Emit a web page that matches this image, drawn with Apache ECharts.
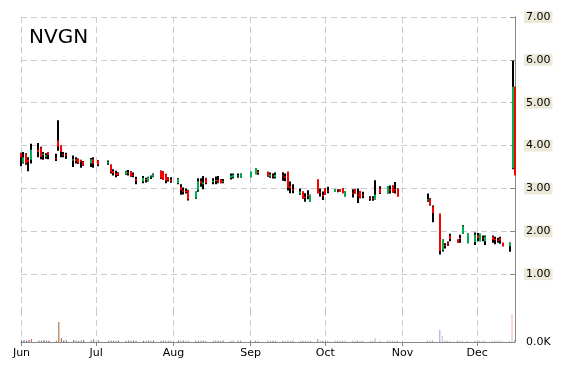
<!DOCTYPE html>
<html><head><meta charset="utf-8">
<script src="https://cdn.jsdelivr.net/npm/echarts@6/dist/echarts.min.js"></script>
<style>html,body{margin:0;padding:0;background:#fff}#c{width:570px;height:370px}</style>
</head><body><div id="c"></div>
<script>
const dates = ['2020-06-01','2020-06-02','2020-06-03','2020-06-04','2020-06-05','2020-06-08','2020-06-09','2020-06-10','2020-06-11','2020-06-12',
'2020-06-15','2020-06-16','2020-06-17','2020-06-18','2020-06-19','2020-06-22','2020-06-23','2020-06-24','2020-06-25','2020-06-26',
'2020-06-29','2020-06-30','2020-07-02','2020-07-06','2020-07-07','2020-07-08','2020-07-09','2020-07-10','2020-07-13','2020-07-14',
'2020-07-15','2020-07-16','2020-07-17','2020-07-20','2020-07-21','2020-07-22','2020-07-23','2020-07-24','2020-07-27','2020-07-28',
'2020-07-29','2020-07-30','2020-07-31','2020-08-03','2020-08-04','2020-08-05','2020-08-06','2020-08-07','2020-08-10','2020-08-11',
'2020-08-12','2020-08-13','2020-08-14','2020-08-17','2020-08-18','2020-08-19','2020-08-20','2020-08-21','2020-08-24','2020-08-25',
'2020-08-27','2020-08-28','2020-09-01','2020-09-03','2020-09-04','2020-09-08','2020-09-09','2020-09-10','2020-09-11','2020-09-14',
'2020-09-15','2020-09-16','2020-09-17','2020-09-18','2020-09-21','2020-09-22','2020-09-23','2020-09-24','2020-09-25','2020-09-28',
'2020-09-29','2020-09-30','2020-10-01','2020-10-02','2020-10-05','2020-10-06','2020-10-07','2020-10-08','2020-10-09','2020-10-12',
'2020-10-13','2020-10-14','2020-10-15','2020-10-16','2020-10-19','2020-10-20','2020-10-21','2020-10-23','2020-10-26','2020-10-27',
'2020-10-28','2020-10-29','2020-10-30','2020-11-11','2020-11-12','2020-11-13','2020-11-16','2020-11-17','2020-11-18','2020-11-19',
'2020-11-20','2020-11-23','2020-11-24','2020-11-25','2020-11-27','2020-11-30','2020-12-01','2020-12-02','2020-12-03','2020-12-04',
'2020-12-07','2020-12-08','2020-12-09','2020-12-10','2020-12-11','2020-12-14','2020-12-15','2020-12-16'];
const opens = [3.82,3.60,3.81,3.67,3.67,3.90,3.95,3.78,3.74,3.85,
3.71,4.12,4.00,3.80,3.80,3.65,3.68,3.69,3.66,3.63,
3.58,3.68,3.65,3.58,3.55,3.40,3.35,3.37,3.33,3.38,
3.39,3.32,3.22,3.16,3.22,3.17,3.26,3.27,3.41,3.39,
3.33,3.24,3.20,3.12,3.04,2.95,2.94,2.96,2.78,2.96,
3.17,3.10,3.24,3.15,3.18,3.20,3.21,3.15,3.25,3.26,
3.28,3.25,3.26,3.33,3.40,3.39,3.28,3.30,3.26,3.30,
3.28,3.39,3.05,2.98,2.88,2.93,2.80,2.85,2.69,3.21,
2.92,2.85,3.00,2.95,2.93,2.95,2.98,3.00,2.81,2.90,
2.98,2.85,2.94,2.85,2.78,2.77,2.75,3.00,2.88,2.98,
3.07,2.98,3.00,2.72,2.75,2.58,2.41,1.56,1.68,1.74,
1.90,1.81,1.85,1.94,1.72,1.75,1.90,1.77,1.85,1.77,
1.88,1.82,1.80,1.84,1.73,1.65,3.47,5.37];
const closes = [3.72,3.73,3.58,3.62,3.90,3.85,3.73,3.81,3.78,3.78,
3.68,3.98,3.85,3.78,3.76,3.68,3.64,3.58,3.62,3.54,
3.68,3.58,3.55,3.62,3.38,3.36,3.32,3.30,3.40,3.35,
3.28,3.30,3.18,3.25,3.19,3.26,3.28,3.33,3.24,3.21,
3.18,3.19,3.17,3.22,2.96,2.92,2.91,2.75,2.92,3.17,
3.12,3.14,3.12,3.18,3.20,3.14,3.12,3.17,3.30,3.32,
3.30,3.35,3.39,3.47,3.36,3.27,3.33,3.28,3.32,3.28,
3.25,3.02,3.00,2.95,2.93,2.76,2.78,2.82,2.85,2.89,
2.90,2.82,2.85,2.93,2.98,2.94,2.93,2.89,2.94,2.88,
2.88,2.83,2.77,2.83,2.76,2.75,2.86,2.89,3.05,2.95,
2.90,2.95,2.81,2.75,2.62,2.42,1.54,1.81,1.65,1.70,
1.82,1.73,1.82,2.12,1.95,1.92,1.84,1.94,1.83,1.88,
1.80,1.79,1.78,1.78,1.65,1.73,5.37,3.31];
const lows = [3.52,3.58,3.55,3.40,3.58,3.73,3.68,3.67,3.69,3.68,
3.64,3.88,3.73,3.73,3.69,3.50,3.58,3.57,3.48,3.53,
3.50,3.48,3.52,3.55,3.35,3.30,3.26,3.29,3.32,3.30,
3.27,3.26,3.10,3.12,3.14,3.16,3.22,3.26,3.22,3.20,
3.12,3.16,3.13,3.10,2.85,2.86,2.88,2.72,2.76,2.92,
3.04,2.98,3.10,3.10,3.10,3.12,3.12,3.12,3.21,3.23,
3.25,3.25,3.26,3.33,3.32,3.27,3.25,3.23,3.23,3.18,
3.17,2.95,2.89,2.89,2.85,2.76,2.69,2.75,2.69,2.89,
2.81,2.73,2.85,2.89,2.93,2.91,2.93,2.89,2.81,2.79,
2.88,2.66,2.77,2.77,2.71,2.71,2.74,2.87,2.88,2.88,
2.90,2.88,2.81,2.69,2.60,2.21,1.46,1.53,1.60,1.66,
1.77,1.73,1.73,1.94,1.72,1.68,1.77,1.77,1.77,1.68,
1.73,1.70,1.73,1.71,1.65,1.52,3.45,3.31];
const highs = [3.83,3.85,3.82,3.73,4.04,4.06,3.97,3.85,3.82,3.85,
3.81,4.59,4.00,3.85,3.83,3.77,3.73,3.70,3.67,3.64,
3.71,3.73,3.66,3.65,3.56,3.45,3.41,3.38,3.41,3.43,
3.40,3.37,3.27,3.29,3.25,3.27,3.30,3.35,3.42,3.40,
3.34,3.26,3.26,3.24,3.10,3.02,3.00,2.97,2.93,3.24,
3.24,3.29,3.25,3.24,3.28,3.29,3.22,3.22,3.35,3.35,
3.35,3.35,3.39,3.47,3.43,3.39,3.37,3.35,3.37,3.38,
3.35,3.39,3.16,3.10,3.00,2.93,2.89,2.96,2.85,3.21,
3.00,2.93,3.00,3.04,2.98,2.98,2.98,3.00,2.94,2.98,
2.98,3.00,2.94,2.92,2.82,2.82,3.19,3.05,3.05,3.07,
3.07,3.15,3.00,2.88,2.77,2.60,2.41,1.81,1.72,1.76,
1.94,1.81,1.92,2.14,1.95,1.97,1.96,1.94,1.90,1.90,
1.90,1.87,1.85,1.87,1.73,1.74,5.98,5.37];
const volumes = [1500,1800,1200,2000,3000,1500,1200,1800,1500,1200,
1500,20000,4000,1500,1800,2000,1500,1200,1500,1800,
1500,2500,2000,1200,1500,1300,1200,1500,1200,1400,
1300,1200,1500,1200,1300,1500,1200,1400,1300,1200,
1500,1200,1300,1400,1200,1500,1300,1200,1400,1300,
1200,1500,1300,1200,1400,1200,1300,1500,1200,1300,
1400,1200,1500,1300,1200,1400,1200,1300,1500,1200,
1300,1500,1200,1400,1300,1200,1500,1300,1200,3000,
1300,1200,1400,1300,1200,1500,1300,1200,1400,1200,
1300,1500,1200,1300,1400,1200,3500,1300,1200,1400,
1300,1200,1500,1500,1200,1800,12000,6000,1500,1300,
1200,1400,1300,1500,1200,1300,1400,1200,1300,1500,
1200,1400,1300,1200,1500,1300,28000,2000];
const priceMin = 0, priceMax = 7, priceStep = 1;
const xStart = '2020-06-01', xEnd = '2020-12-16';

const volPalette = ['#8b5a2b','#2b4c7e','#5a7a3a','#6a3d8a','#c06a20','#2f7f9f'];
const volOverride = {11:'#a0602a', 106:'#a99ccc', 107:'#9cc9e0', 126:'#f4b8a0'};
const n = dates.length;
const volData = volumes.map((v, i) => ({
  value: [dates[i], v],
  itemStyle: { color: volOverride[i] || volPalette[i % volPalette.length], opacity: volOverride[i] ? 1 : (1 - 0.6 * i / n) }
}));
const ohlc = dates.map((d, i) => [d, opens[i], closes[i], lows[i], highs[i]]);

const chart = echarts.init(document.getElementById('c'), null, {renderer: 'canvas'});
const FONT = 'DejaVu Sans';
const dash = {color: '#cccccc', type: [6, 4], width: 1};
chart.setOption({
  animation: false,
  backgroundColor: '#fff',
  title: {text: 'NVGN', left: 24, top: 23, textStyle: {fontFamily: FONT, fontSize: 20, fontWeight: 'normal', color: '#000'}},
  grid: [
    {left: 21, right: 55, top: 17, height: 300},
    {left: 21, right: 55, top: 310, height: 32}
  ],
  xAxis: [
    {type: 'time', gridIndex: 0, min: xStart, max: xEnd, minInterval: 28*86400000, maxInterval: 31*86400000,
     axisLine: {show: false}, axisTick: {show: false}, axisLabel: {show: false},
     splitLine: {show: true, lineStyle: dash}},
    {type: 'time', gridIndex: 1, min: xStart, max: xEnd, minInterval: 28*86400000, maxInterval: 31*86400000,
     axisLine: {show: true, lineStyle: {color: '#888'}},
     axisTick: {show: true, length: 4, lineStyle: {color: '#888'}},
     axisLabel: {formatter: '{MMM}', fontFamily: FONT, fontSize: 11, color: '#000', margin: 6, showMaxLabel: false},
     splitLine: {show: true, lineStyle: dash}}
  ],
  yAxis: [
    {type: 'value', gridIndex: 0, position: 'right', min: priceMin, max: priceMax, interval: priceStep,
     axisLine: {show: true, lineStyle: {color: '#888'}},
     axisTick: {show: true, inside: true, length: 5, lineStyle: {color: '#888'}},
     axisLabel: {showMinLabel: false, formatter: v => v.toFixed(2), fontFamily: FONT, fontSize: 11, color: '#000',
       backgroundColor: '#ece9d8', padding: [1, 2, 0, 2], margin: 9},
     splitLine: {show: true, lineStyle: dash, showMinLine: false}},
    {type: 'value', gridIndex: 1, position: 'right', min: 0, max: 32000, interval: 32000,
     axisLine: {show: true, lineStyle: {color: '#888'}},
     axisTick: {show: false},
     axisLabel: {showMaxLabel: false, formatter: v => (v/1000).toFixed(1) + 'K', fontFamily: FONT, fontSize: 11, color: '#000', margin: 11},
     splitLine: {show: false}}
  ],
  series: [
    {type: 'bar', xAxisIndex: 1, yAxisIndex: 1, barWidth: 1, data: volData},
    {type: 'custom', xAxisIndex: 0, yAxisIndex: 0, data: ohlc, encode: {x: 0, y: [1, 2, 3, 4]},
     renderItem: function (params, api) {
       const x = api.value(0), o = api.value(1), c = api.value(2), l = api.value(3), h = api.value(4);
       const pH = api.coord([x, h]), pL = api.coord([x, l]), pO = api.coord([x, o]), pC = api.coord([x, c]);
       const px = Math.round(pH[0]) - 1;
       const top = Math.min(pO[1], pC[1]);
       const bh = Math.max(Math.abs(pO[1] - pC[1]), 1);
       return {type: 'group', children: [
         {type: 'rect', shape: {x: px, y: pH[1], width: 2, height: Math.max(pL[1] - pH[1], 1)}, style: {fill: '#000'}},
         {type: 'rect', shape: {x: px, y: top, width: 2, height: bh}, style: {fill: c >= o ? '#00b050' : '#ff0000'}}
       ]};
     }}
  ]
});
</script>
</body></html>
